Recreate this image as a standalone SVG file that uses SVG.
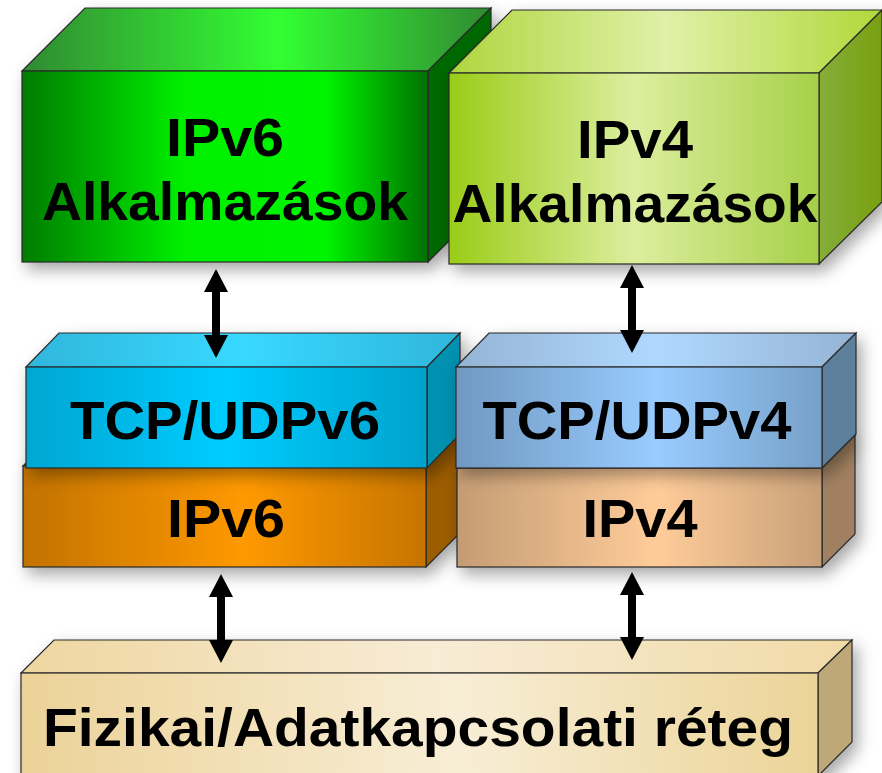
<svg xmlns="http://www.w3.org/2000/svg" width="882" height="773" viewBox="0 0 882 773">
<style>
.t{font-family:"Liberation Sans",Arial,sans-serif;font-weight:bold;font-size:53px;fill:#000;text-anchor:middle}
.e{stroke:#2a2a2a;stroke-width:1.2;stroke-linejoin:miter}
.sh{filter:url(#shadow)}
</style>
<defs>
<filter id="shadow" x="-10%" y="-20%" width="125%" height="150%">
<feDropShadow dx="5" dy="7" stdDeviation="8" flood-color="#000" flood-opacity="0.35"/>
</filter>
<marker id="ah" viewBox="0 0 23 24" markerUnits="userSpaceOnUse" markerWidth="23" markerHeight="24" refX="2" refY="12" orient="auto-start-reverse">
<path d="M0,0 L23,12 L0,24 Z" fill="#000"/>
</marker>
<linearGradient id="g1f" x1="0" x2="1" y1="0" y2="0"><stop offset="0" stop-color="#007c00"/><stop offset="0.4" stop-color="#00f000"/><stop offset="0.75" stop-color="#00f400"/><stop offset="1" stop-color="#007000"/></linearGradient>
<linearGradient id="g1t" x1="0" x2="1" y1="0" y2="0"><stop offset="0" stop-color="#2f8a30"/><stop offset="0.55" stop-color="#33ff33"/><stop offset="1" stop-color="#2f8a30"/></linearGradient>
<linearGradient id="g2f" x1="0" x2="1" y1="0" y2="0"><stop offset="0" stop-color="#9acc18"/><stop offset="0.5" stop-color="#dcee9e"/><stop offset="1" stop-color="#a6d048"/></linearGradient>
<linearGradient id="g2t" x1="0" x2="1" y1="0" y2="0"><stop offset="0" stop-color="#aed63e"/><stop offset="0.5" stop-color="#e0f0a8"/><stop offset="1" stop-color="#b0d83a"/></linearGradient>
<linearGradient id="g2r" x1="0" x2="1" y1="0" y2="0"><stop offset="0" stop-color="#86ae3a"/><stop offset="1" stop-color="#78a010"/></linearGradient>
<linearGradient id="g3f" x1="0" x2="1" y1="0" y2="0"><stop offset="0" stop-color="#00a6d2"/><stop offset="0.5" stop-color="#00ccff"/><stop offset="1" stop-color="#00a2cc"/></linearGradient>
<linearGradient id="g3t" x1="0" x2="1" y1="0" y2="0"><stop offset="0" stop-color="#30b6dc"/><stop offset="0.5" stop-color="#38d8ff"/><stop offset="1" stop-color="#30b6dc"/></linearGradient>
<linearGradient id="g4f" x1="0" x2="1" y1="0" y2="0"><stop offset="0" stop-color="#c27200"/><stop offset="0.55" stop-color="#ff9900"/><stop offset="1" stop-color="#c67400"/></linearGradient>
<linearGradient id="g5f" x1="0" x2="1" y1="0" y2="0"><stop offset="0" stop-color="#7098c0"/><stop offset="0.55" stop-color="#99ccff"/><stop offset="1" stop-color="#76a0c8"/></linearGradient>
<linearGradient id="g5t" x1="0" x2="1" y1="0" y2="0"><stop offset="0" stop-color="#94b4d4"/><stop offset="0.5" stop-color="#b0d8ff"/><stop offset="1" stop-color="#94b4d4"/></linearGradient>
<linearGradient id="g6f" x1="0" x2="1" y1="0" y2="0"><stop offset="0" stop-color="#c49c74"/><stop offset="0.55" stop-color="#ffcc99"/><stop offset="1" stop-color="#c8a078"/></linearGradient>
<linearGradient id="g7f" x1="0" x2="1" y1="0" y2="0"><stop offset="0" stop-color="#ecd298"/><stop offset="0.55" stop-color="#f8eed6"/><stop offset="1" stop-color="#ecd498"/></linearGradient>
<linearGradient id="g7t" x1="0" x2="1" y1="0" y2="0"><stop offset="0" stop-color="#eed6a0"/><stop offset="0.5" stop-color="#f8ecd6"/><stop offset="1" stop-color="#f0daa6"/></linearGradient>
</defs>
<rect width="882" height="773" fill="#fff"/>

<g id="ipv6-app" class="sh">
<polygon class="e" points="22,71 85,8 491,8 428,71" fill="url(#g1t)"/>
<polygon class="e" points="428,71 491,8 491,199 428,262" fill="#006800"/>
<rect class="e" x="22" y="71" width="406" height="191" fill="url(#g1f)"/>
<text class="t" x="225" y="156" textLength="118" lengthAdjust="spacingAndGlyphs">IPv6</text>
<text class="t" x="225" y="220" textLength="366" lengthAdjust="spacingAndGlyphs">Alkalmazások</text>
</g>

<g id="ipv4-app" class="sh">
<polygon class="e" points="449,73 512,10 882,10 819,73" fill="url(#g2t)"/>
<polygon class="e" points="819,73 882,10 882,202 819,264" fill="url(#g2r)"/>
<rect class="e" x="449" y="73" width="370" height="191" fill="url(#g2f)"/>
<text class="t" x="635" y="158" textLength="116" lengthAdjust="spacingAndGlyphs">IPv4</text>
<text class="t" x="635" y="222" textLength="365" lengthAdjust="spacingAndGlyphs">Alkalmazások</text>
</g>

<g id="ipv6" class="sh">
<polygon class="e" points="23,466 56,433 459,433 426,466" fill="#e08400"/>
<polygon class="e" points="426,466 459,433 459,534 426,567" fill="#9c5c00"/>
<rect class="e" x="23" y="466" width="403" height="101" fill="url(#g4f)"/>
<text class="t" x="226" y="537" textLength="118" lengthAdjust="spacingAndGlyphs">IPv6</text>
</g>

<g id="tcpudpv6" class="sh">
<polygon class="e" points="26,367 59,333 460,333 427,367" fill="url(#g3t)"/>
<polygon class="e" points="427,367 460,333 460,434 427,468" fill="#0090b0"/>
<rect class="e" x="26" y="367" width="401" height="101" fill="url(#g3f)"/>
<text class="t" x="225" y="439" textLength="310" lengthAdjust="spacingAndGlyphs">TCP/UDPv6</text>
</g>

<g id="ipv4" class="sh">
<polygon class="e" points="457,468 490,435 855,435 822,468" fill="#e0b488"/>
<polygon class="e" points="822,468 855,435 855,534 822,567" fill="#a08060"/>
<rect class="e" x="457" y="468" width="365" height="99" fill="url(#g6f)"/>
<text class="t" x="640" y="537" textLength="115" lengthAdjust="spacingAndGlyphs">IPv4</text>
</g>

<g id="tcpudpv4" class="sh">
<polygon class="e" points="456,367 489,333 856,333 822,367" fill="url(#g5t)"/>
<polygon class="e" points="822,367 856,333 856,434 822,468" fill="#5c7f9c"/>
<rect class="e" x="456" y="367" width="366" height="101" fill="url(#g5f)"/>
<text class="t" x="637" y="439" textLength="309" lengthAdjust="spacingAndGlyphs">TCP/UDPv4</text>
</g>

<g id="phy" class="sh">
<polygon class="e" points="21,673 54,640 852,640 818,673" fill="url(#g7t)"/>
<polygon class="e" points="818,673 852,640 852,742 818,776" fill="#bea878"/>
<rect class="e" x="21" y="673" width="797" height="110" fill="url(#g7f)"/>
<text class="t" x="418" y="746" textLength="750" lengthAdjust="spacingAndGlyphs">Fizikai/Adatkapcsolati réteg</text>
</g>

<g id="connectors" stroke="#000" stroke-width="8" marker-start="url(#ah)" marker-end="url(#ah)">
<line x1="216" y1="290" x2="216" y2="337"/>
<line x1="632" y1="286" x2="632" y2="332"/>
<line x1="221" y1="595" x2="221" y2="642"/>
<line x1="632" y1="593" x2="632" y2="639"/>
</g>
</svg>
